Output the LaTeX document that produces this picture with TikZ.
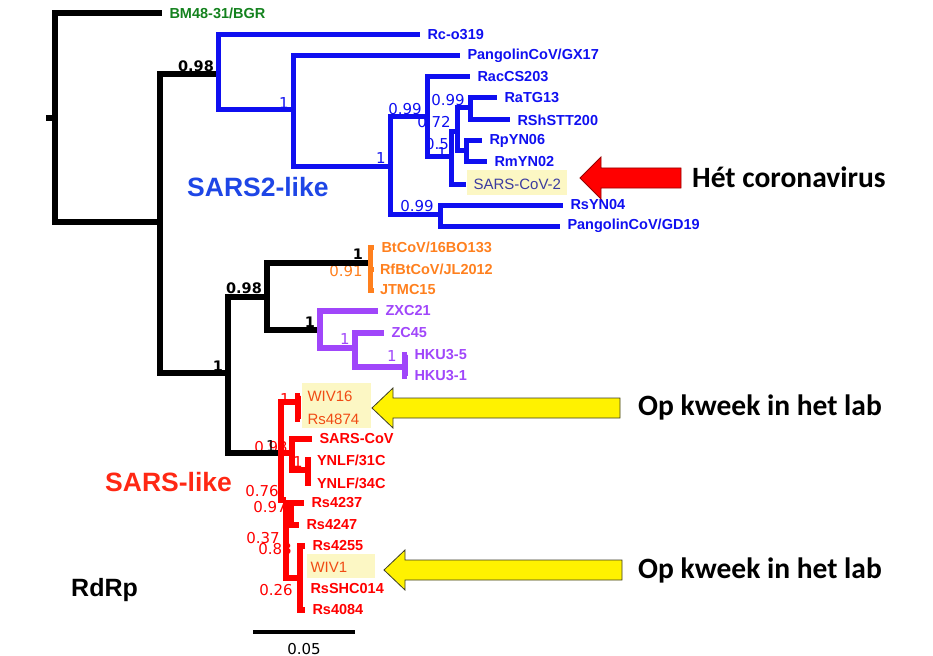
\documentclass[tikz,border=0pt]{standalone}
\usepackage{fontspec}
\setmainfont{Liberation Sans}
\newfontfamily\numfont{DejaVu Sans}
\newfontfamily\calfont{Carlito}
\definecolor{treeblue}{RGB}{15,15,240}
\definecolor{treegreen}{RGB}{20,130,30}
\definecolor{treeorange}{RGB}{255,128,30}
\definecolor{treepurple}{RGB}{160,70,250}
\definecolor{treered}{RGB}{255,0,0}
\definecolor{labred}{RGB}{240,75,20}
\definecolor{covblue}{RGB}{60,60,160}
\definecolor{hilite}{RGB}{252,247,196}
\definecolor{sarstwoblue}{RGB}{30,70,230}
\definecolor{sarsred}{RGB}{255,40,20}
\definecolor{arrowedge}{RGB}{60,60,40}
\definecolor{darkred}{RGB}{150,0,0}
\begin{document}
\begin{tikzpicture}[x=1pt,y=-1pt,
  leaf/.style={anchor=west,inner xsep=7.5pt,inner ysep=0pt,outer sep=0pt,
    font=\fontsize{14.5}{16}\selectfont\bfseries},
  hleaf/.style={leaf,font=\fontsize{15}{16}\selectfont},
  supp/.style={inner sep=0pt,font=\numfont\fontsize{15}{16}\selectfont},
  bsupp/.style={supp,font=\numfont\fontsize{14.5}{16}\selectfont\bfseries},
  blk/.style={line width=5.5pt,black},
  blu/.style={line width=5pt,treeblue},
  org/.style={line width=5pt,treeorange},
  pur/.style={line width=5.5pt,treepurple},
  rd/.style={line width=5.5pt,treered},
  bigarrow/.style={line width=0.8pt,line join=miter},
  clade/.style={anchor=west,inner sep=0pt,font=\fontsize{26.5}{28}\selectfont\bfseries},
  note/.style={anchor=west,inner sep=0pt,font=\calfont\fontsize{29.5}{32}\selectfont\bfseries}]
\useasboundingbox (0,0) rectangle (933,655);

% highlights
\fill[hilite] (467,170) rectangle (567,195);
\fill[hilite] (302,383) rectangle (371,428);
\fill[hilite] (307,554) rectangle (375,578);

% leaves
\node[leaf,text=treegreen] (bgr) at (162,13) {BM48-31/BGR};
\node[leaf,text=treeblue] (rco) at (420,35) {Rc-o319};
\node[leaf,text=treeblue] (gx17) at (460,56) {PangolinCoV/GX17};
\node[leaf,text=treeblue] (raccs) at (470,77) {RacCS203};
\node[leaf,text=treeblue] (ratg) at (497,98) {RaTG13};
\node[leaf,text=treeblue] (rshstt) at (510,120) {RShSTT200};
\node[leaf,text=treeblue] (rpyn) at (482,141) {RpYN06};
\node[leaf,text=treeblue] (rmyn) at (487,162) {RmYN02};
\node[hleaf,text=covblue] (cov2) at (466,184) {SARS-CoV-2};
\node[leaf,text=treeblue] (rsyn) at (563,205) {RsYN04};
\node[leaf,text=treeblue] (gd19) at (560,226) {PangolinCoV/GD19};
\node[leaf,text=treeorange] (bt16) at (374,247) {BtCoV/16BO133};
\node[leaf,text=treeorange,inner xsep=6pt] (rfbt) at (374,269) {RfBtCoV/JL2012};
\node[leaf,text=treeorange,inner xsep=6pt] (jtmc) at (374,290) {JTMC15};
\node[leaf,text=treepurple] (zxc) at (378,311) {ZXC21};
\node[leaf,text=treepurple] (zc45) at (384,333) {ZC45};
\node[leaf,text=treepurple] (hkufive) at (407,355) {HKU3-5};
\node[leaf,text=treepurple] (hkuone) at (407,376) {HKU3-1};
\node[hleaf,text=labred] (wivsixteen) at (300,396) {WIV16};
\node[hleaf,text=labred] (rsfour) at (300,419) {Rs4874};
\node[leaf,text=treered] (sarscov) at (312,439) {SARS-CoV};
\node[leaf,text=treered,inner xsep=6pt] (ynlfa) at (311,460) {YNLF/31C};
\node[leaf,text=treered,inner xsep=6pt] (ynlfb) at (311,483) {YNLF/34C};
\node[leaf,text=treered] (rsa) at (304,503) {Rs4237};
\node[leaf,text=treered] (rsb) at (299,525) {Rs4247};
\node[leaf,text=treered] (rsc) at (305,546) {Rs4255};
\node[hleaf,text=labred] (wivone) at (303,567) {WIV1};
\node[leaf,text=treered] (rsshc) at (303,589) {RsSHC014};
\node[leaf,text=treered] (rsd) at (305,610) {Rs4084};

% support values
\node[bsupp] at (196,66) {0.98};
\node[bsupp] at (244,288) {0.98};
\node[bsupp] at (218,366) {1};
\node[bsupp] at (358,254) {1};
\node[bsupp] at (310,322) {1};
\node[supp,text=treeblue] at (284,103) {1};
\node[supp,text=treeblue] at (381,158) {1};
\node[supp,text=treeblue] at (405,109) {0.99};
\node[supp,text=treeblue] at (417,206) {0.99};
\node[supp,text=treeblue] at (448,100) {0.99};
\node[supp,text=treeblue] at (434,122) {0.72};
\node[supp,text=treeblue] at (437,144) {0.5};
\node[supp,text=treeblue] at (442,153) {1};
\node[supp,text=treeorange] at (346,271) {0.91};
\node[supp,text=treepurple] at (345,339) {1};
\node[supp,text=treepurple] at (392,356) {1};
\node[supp,text=treered] at (285,399) {1};
\node[supp,text=treered] at (271,447) {0.93};
\node[supp] at (271,446) {1};
\node[supp,text=treered] at (298,462) {1};
\node[supp,text=treered] at (262,491) {0.76};
\node[supp,text=treered] at (270,507) {0.97};
\node[supp,text=treered] at (263,538) {0.37};
\node[supp,text=treered] at (275,549) {0.88};
\node[supp,text=treered] at (276,590) {0.26};

% inner nodes
\coordinate (stub) at (46,118);
\coordinate (n0) at (55,118);
\coordinate (n1) at (160,222);
\coordinate (n2) at (218,74);
\coordinate (n3) at (228,373);
\coordinate (n4) at (293,110);
\coordinate (n5) at (390,167);
\coordinate (n6) at (427,117);
\coordinate (n7) at (440,214);
\coordinate (n8) at (451,157);
\coordinate (n9) at (457,132);
\coordinate (n10) at (470,108);
\coordinate (n11) at (466,151);
\coordinate (n12) at (267,297);
\coordinate (no) at (370,263);
\coordinate (np) at (320,330);
\coordinate (nq) at (355,348);
\coordinate (ns) at (405,367);
\coordinate (nr) at (281,453);
\coordinate (nw) at (298,402);
\coordinate (nsc) at (292,453);
\coordinate (ny) at (308,470);
\coordinate (nrb) at (286,500);
\coordinate (nra) at (291,514);
\coordinate (nrc) at (300,578);

% branches
\draw[blk] (stub) -- (n0);
\foreach \a/\b in {n0/bgr.west,n0/n1,n1/n2,n1/n3,n3/n12,n3/nr,n12/no,n12/np}
  \draw[blk] (\a) |- (\b);
\foreach \a/\b in {n2/rco.west,n2/n4,n4/gx17.west,n4/n5,n5/n6,n5/n7,
    n7/rsyn.west,n7/gd19.west,n6/raccs.west,n6/n8,n8/n9,n8/cov2.west,
    n9/n10,n9/n11,n10/ratg.west,n10/rshstt.west,n11/rpyn.west,n11/rmyn.west}
  \draw[blu] (\a) |- (\b);
\foreach \b in {bt16,rfbt,jtmc}
  \draw[org] (no) |- (\b.west);
\foreach \a/\b in {np/zxc.west,np/nq,nq/zc45.west,nq/ns,ns/hkufive.west,ns/hkuone.west}
  \draw[pur] (\a) |- (\b);
\foreach \a/\b in {nr/nw,nr/nsc,nr/nrb,nw/wivsixteen.west,nw/rsfour.west,
    nsc/sarscov.west,nsc/ny,ny/ynlfa.west,ny/ynlfb.west,nrb/nra,nrb/nrc,
    nra/rsa.west,nra/rsb.west,nrc/rsc.west,nrc/wivone.west,nrc/rsshc.west,nrc/rsd.west}
  \draw[rd] (\a) |- (\b);

% clade names
\node[clade,text=sarstwoblue] (sarstwo) at (187,187) {SARS2-like};
\node[clade,text=sarsred] (sarsone) at (105,482) {SARS-like};
\node[clade,font=\fontsize{25}{28}\selectfont\bfseries] (rdrp) at (71,590) {RdRp};

% scale bar
\coordinate (sba) at (253,632);
\coordinate (sbb) at (355,632);
\draw[line width=3.5pt] (sba) -- (sbb);
\node[supp] (sbl) at (304,649) {0.05};

% arrows
\draw[bigarrow,draw=darkred,fill=treered] (580,178) -- (601,157) -- (601,168) -- (681,168)
  -- (681,188) -- (601,188) -- (601,199) -- cycle;
\draw[bigarrow,draw=arrowedge,fill=yellow] (372,408) -- (393,388) -- (393,398) -- (620,398)
  -- (620,418) -- (393,418) -- (393,428) -- cycle;
\draw[bigarrow,draw=arrowedge,fill=yellow] (384,570) -- (405,550) -- (405,560) -- (622,560)
  -- (622,580) -- (405,580) -- (405,590) -- cycle;
\node[note] (hetcov) at (692,177) {Hét coronavirus};
\node[note] (kweeka) at (638,407) {Op kweek in het lab};
\node[note] (kweekb) at (638,570) {Op kweek in het lab};
\end{tikzpicture}
\end{document}
